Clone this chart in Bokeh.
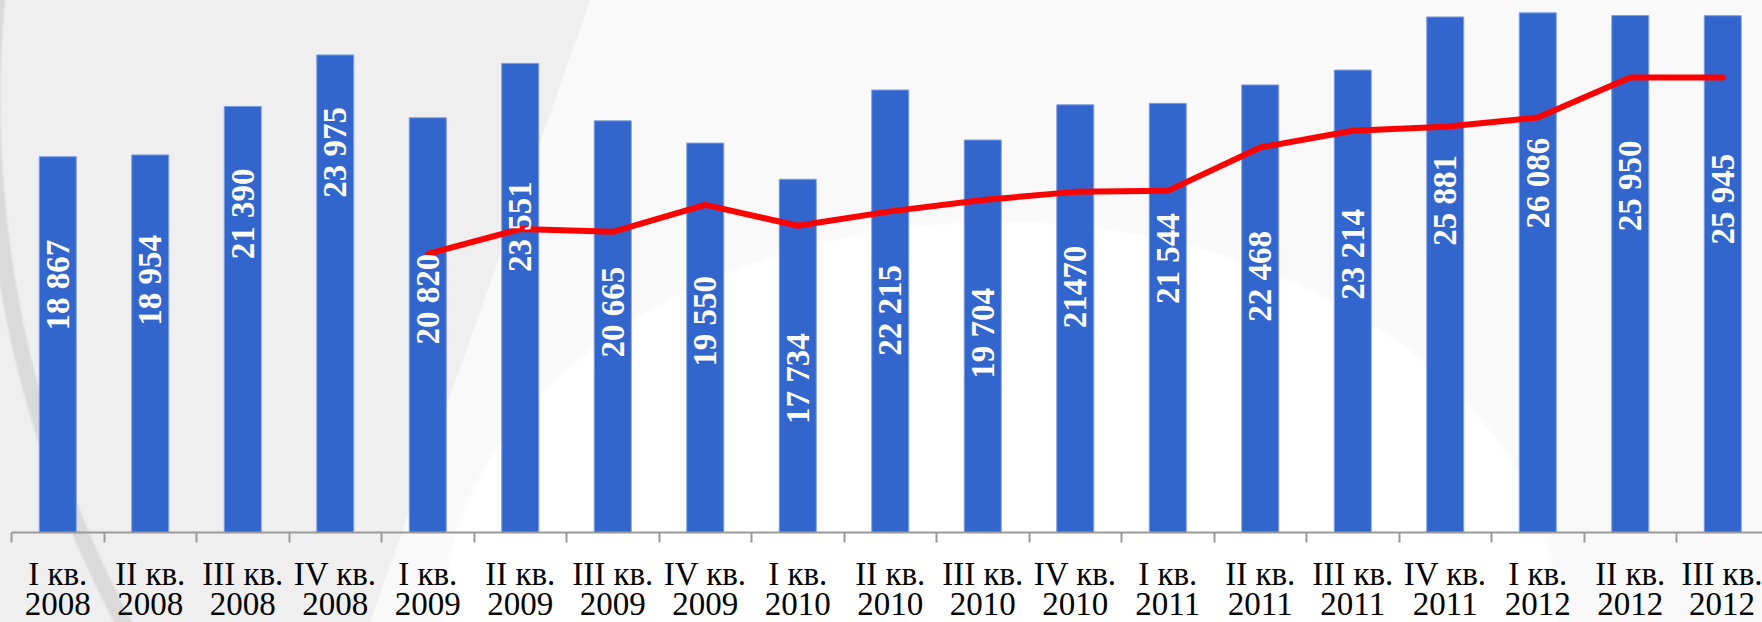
import math
from bokeh.plotting import figure
from bokeh.models import Range1d, FixedTicker, ColumnDataSource, LabelSet, GlobalInlineStyleSheet
from bokeh.embed import file_html
from bokeh.resources import INLINE

# ---- data ----
quarter_names = ["I кв.", "II кв.", "III кв.", "IV кв.", "I кв.", "II кв.", "III кв.", "IV кв.",
                 "I кв.", "II кв.", "III кв.", "IV кв.", "I кв.", "II кв.", "III кв.", "IV кв.",
                 "I кв.", "II кв.", "III кв."]
years = ["2008", "2008", "2008", "2008", "2009", "2009", "2009", "2009",
         "2010", "2010", "2010", "2010", "2011", "2011", "2011", "2011",
         "2012", "2012", "2012"]
bar_values = [18867, 18954, 21390, 23975, 20820, 23551, 20665, 19550, 17734, 22215,
              19704, 21470, 21544, 22468, 23214, 25881, 26086, 25950, 25945]
bar_labels = ["18 867", "18 954", "21 390", "23 975", "20 820", "23 551", "20 665", "19 550",
              "17 734", "22 215", "19 704", "21470", "21 544", "22 468", "23 214", "25 881",
              "26 086", "25 950", "25 945"]
nan = float("nan")
line_values = [nan, nan, nan, nan, 13990, 15230, 15095, 16450, 15400, 16120,
               16690, 17100, 17150, 19330, 20170, 20370, 20830, 22840, 22840]

# ---- style: how far below each bar top its label ends (screen px) ----
label_drop_px = [83, 80, 62, 52, 136, 118, 146, 133, 154, 175, 148, 141, 110, 146, 139, 138, 125, 125, 138]

n = len(bar_values)
xs = list(range(n))

FRAME_W, FRAME_H = 1751, 532
CAT_PX = 92.5
PX_PER_UNIT = 0.01992

src = ColumnDataSource(dict(x=xs, top=bar_values, lab=bar_labels,
                            off=[-d for d in label_drop_px], line=line_values))

p = figure(frame_width=FRAME_W, frame_height=FRAME_H, output_backend="svg", toolbar_location=None,
           x_range=Range1d(-0.5, -0.5 + FRAME_W / CAT_PX), y_range=Range1d(0, FRAME_H / PX_PER_UNIT),
           y_axis_location=None, min_border_left=11, min_border_right=0, min_border_top=0,
           min_border_bottom=0)
p.background_fill_alpha = 0
p.border_fill_alpha = 0
p.outline_line_color = None
p.grid.visible = False

# decorative slide background (pure CSS behind the transparent canvas)
p.styles = {
    "background": (
        "radial-gradient(circle 1118px at 1100px 100px, rgba(0,0,0,0) 1098px, #dadada 1101px, "
        "#dadada 1114px, rgba(0,0,0,0) 1117px), "
        "radial-gradient(560px 400px at 1000px 620px, #ffffff 99%, rgba(255,255,255,0) 100%), "
        "linear-gradient(109.5deg, #efefef 0px, #efefef 556px, rgba(0,0,0,0) 557px), "
        "#f9f9f9"
    )
}
p.stylesheets = [GlobalInlineStyleSheet(css="html, body { overflow: hidden; background: #f9f9f9; }")]

p.vbar(x="x", top="top", width=0.4, source=src, fill_color="#3366CC", line_color="#7f9fe0",
       line_width=1)
p.line(x="x", y="line", source=src, line_color="#FF0000", line_width=6,
       line_join="round", line_cap="round")

labels = LabelSet(x="x", y="top", text="lab", y_offset="off", source=src, angle=math.pi / 2,
                  text_align="right", text_baseline="middle", text_color="white",
                  text_font="Liberation Serif", text_font_style="bold", text_font_size="33px")
p.add_layout(labels)

ax = p.xaxis[0]
ax.ticker = FixedTicker(ticks=xs, minor_ticks=[i - 0.5 for i in range(n + 1)])
ax.major_label_overrides = {i: f"{quarter_names[i]}\n{years[i]}" for i in xs}
ax.major_tick_line_color = None
ax.major_tick_out = 0
ax.major_tick_in = 0
ax.minor_tick_out = 10
ax.minor_tick_in = 0
ax.minor_tick_line_color = "#9a9a9a"
ax.minor_tick_line_width = 2
ax.axis_line_color = "#9a9a9a"
ax.axis_line_width = 2
ax.major_label_standoff = 13
ax.major_label_text_font = "Liberation Serif"
ax.major_label_text_font_size = "33px"
ax.major_label_text_color = "black"
ax.major_label_text_line_height = 0.85

open("out.html", "w").write(file_html(p, INLINE))
